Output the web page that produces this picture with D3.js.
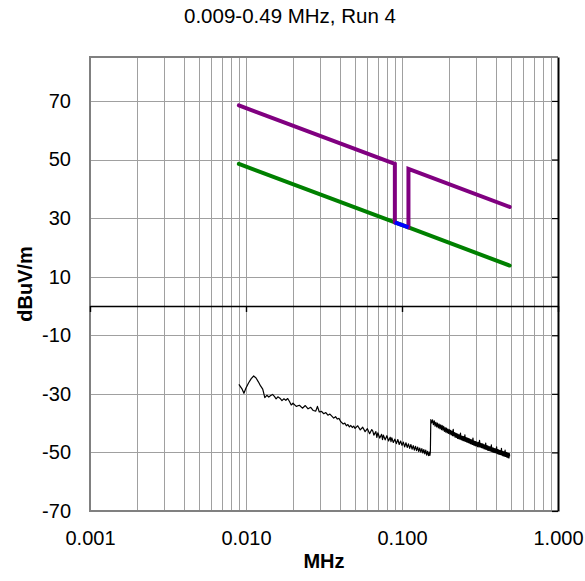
<!DOCTYPE html>
<html>
<head>
<meta charset="utf-8">
<script src="https://cdn.jsdelivr.net/npm/d3@7"></script>
<style>
  html, body { margin: 0; padding: 0; background: #fff; }
  svg { display: block; }
  text { font-family: "Liberation Sans", Arial, sans-serif; fill: #000; }
</style>
</head>
<body>
<svg id="chart" width="585" height="581"></svg>
<script>
// ---- text ----
const chartTitle = "0.009-0.49 MHz, Run 4";
const xLabel = "MHz";
const yLabel = "dBuV/m";

// ---- axis ticks ----
const xTicks = [0.001, 0.01, 0.1, 1];
const xTickLabels = ["0.001", "0.010", "0.100", "1.000"];
const yTicks = [-70, -50, -30, -10, 10, 30, 50, 70];
const yDomain = [-70, 85];
const xDomain = [0.001, 1];

// ---- limit lines: [MHz, dBuV/m] ----
const peakLimitLow  = [[0.009, 68.5], [0.09, 48.5], [0.09, 28.5]];
const peakLimitHigh = [[0.11, 26.8], [0.11, 46.8], [0.49, 33.8]];
const avgLimit      = [[0.009, 48.5], [0.09, 28.5], [0.11, 26.8], [0.49, 13.8]];
const qpLimit       = [[0.09, 28.5], [0.11, 26.8]];

// ---- measured trace: [kHz, dBuV/m] ----
const measLow = [
  [9.0,-26.8],[9.4,-28.2],[9.7,-29.8],[10.0,-28.0],[10.4,-26.2],[10.8,-24.8],[11.2,-23.9],[11.6,-24.6],
  [12.0,-25.9],[12.4,-27.3],[12.8,-28.4],[13.2,-31.3],[13.6,-30.5],[14.0,-31.1],[14.4,-30.6],[14.8,-30.2],
  [15.2,-30.9],[15.6,-31.7],[16.0,-31.0],[16.5,-31.5],[17.0,-32.3],[17.5,-31.7],[18.0,-32.2],[18.5,-31.6],
  [19.0,-32.6],[19.5,-33.8],[20,-33.2],[21,-34.3],[22,-33.9],[23,-34.9],[24,-34.0],[25,-35.1],
  [26,-34.6],[27,-35.7],[28,-35.9],[28.7,-34.3],[29.5,-36.2],[30.5,-36.0],[31.5,-36.8],[32.5,-36.4],
  [33.5,-37.3],[34.5,-36.9],[35.5,-37.6],[36.5,-38.3],[37.5,-37.8],[38.5,-38.6],[39.5,-38.4],[40.5,-39.5],
  [42,-40.3],[43,-40.0],[44,-40.9],[45,-40.5],[46,-41.3],[47,-40.8],[48,-41.5],[49,-41.0],
  [50,-41.8],[52,-40.9],[54,-42.3],[56,-41.4],[58,-42.9],[60,-41.9],[62,-43.6],[64,-42.2],
  [65,-42.7],[66,-44.1],[68,-42.9],[69,-44.9],[70,-43.3],[72,-45.1],[74,-43.8],[75,-45.6],
  [76,-44.1],[78,-45.7],[80,-44.3],[82,-46.1],[84,-44.8],[85,-46.3],[86,-45.0],[88,-46.6],
  [90,-45.5],[92,-47.0],[94,-45.6],[96,-47.3],[98,-46.1],[100,-47.6],[102,-46.5],[104,-48.1],
  [106,-46.7],[108,-48.3],[110,-47.1],[112,-48.6],[114,-47.3],[116,-48.9],[118,-47.7],[120,-49.2],
  [122,-47.9],[124,-49.4],[126,-48.2],[128,-49.7],[130,-48.5],[132,-49.9],[134,-48.7],[136,-50.2],
  [138,-49.0],[140,-50.5],[142,-49.2],[144,-50.9],[146,-49.6],[148,-51.1],[150,-49.9],[151,-51.0],
  [152,-49.9]
];
const measHigh = [
  [153,-38.8],[155,-39.9],[157,-38.9],[159,-40.5],[161,-39.2],[163,-41.0],[165,-39.7],[167,-41.3],
  [169,-40.0],[171,-41.6],[173,-40.3],[175,-41.9],[177,-40.6],[179,-42.2],[181,-40.8],[183,-42.4],
  [185,-41.1],[187,-42.8],[189,-41.5],[191,-43.1],[193,-41.7],[195,-43.3],[197,-42.0],[199,-43.5],
  [201,-42.2],[203,-43.8],[205,-42.5],[207,-44.0],[209,-42.7],[211,-44.3],[213,-42.1],[215,-44.4],
  [217,-43.2],[219,-44.8],[221,-43.4],[223,-44.9],[225,-43.6],[227,-45.2],[229,-43.8],[231,-45.3],
  [233,-44.0],[235,-45.5],[237,-43.4],[239,-45.6],[241,-44.4],[243,-45.8],[245,-44.5],[247,-46.0],
  [249,-44.6],[251,-46.1],[253,-44.0],[255,-46.2],[257,-44.9],[259,-46.4],[261,-45.0],[263,-46.5],
  [265,-45.2],[267,-46.7],[269,-45.3],[271,-46.8],[273,-45.5],[275,-47.0],[277,-45.6],[279,-47.1],
  [281,-45.8],[283,-47.3],[285,-45.1],[287,-47.4],[289,-46.1],[291,-47.5],[293,-46.2],[295,-47.7],
  [297,-46.3],[299,-47.8],[302,-46.5],[305,-48.0],[308,-46.6],[311,-48.1],[314,-45.9],[317,-48.2],
  [320,-46.9],[323,-48.4],[326,-47.0],[329,-48.5],[332,-47.2],[335,-48.7],[338,-47.4],[341,-48.9],
  [344,-46.8],[347,-49.0],[350,-47.7],[353,-49.2],[356,-47.8],[359,-49.3],[362,-48.0],[365,-49.4],
  [368,-48.1],[371,-49.6],[374,-47.4],[377,-49.7],[380,-48.4],[383,-49.9],[386,-48.5],[389,-50.0],
  [392,-48.7],[395,-50.1],[398,-48.8],[401,-50.2],[404,-48.1],[407,-50.3],[410,-49.0],[413,-50.5],
  [416,-49.1],[419,-50.6],[422,-49.3],[425,-50.7],[428,-49.4],[431,-50.8],[434,-48.6],[437,-50.9],
  [440,-49.6],[443,-51.1],[446,-49.7],[449,-51.2],[452,-49.8],[455,-51.3],[458,-49.2],[461,-51.4],
  [464,-50.0],[467,-51.5],[470,-50.1],[473,-51.6],[476,-50.2],[479,-51.8],[482,-50.3],[485,-51.9],
  [488,-50.4],[490,-51.3]
];

// ---- layout ----
const plot = { left: 90, right: 558, top: 57, bottom: 511 };
const svg = d3.select("#chart");
const fontFamily = '"Liberation Sans", Arial, sans-serif';

const x = d3.scaleLog().domain(xDomain).range([plot.left, plot.right]);
const y = d3.scaleLinear().domain(yDomain).range([plot.bottom, plot.top]);

// gridlines
const grid = svg.append("g").attr("stroke", "#a0a0a0").attr("stroke-width", 1);
grid.selectAll("line.v")
  .data(x.ticks().filter(d => d > xDomain[0] * 1.0001 && d < xDomain[1] * 0.9999))
  .join("line")
  .attr("x1", d => Math.round(x(d)) + 0.5).attr("x2", d => Math.round(x(d)) + 0.5)
  .attr("y1", plot.top).attr("y2", plot.bottom);
grid.selectAll("line.h")
  .data(yTicks.filter(d => d > yDomain[0]))
  .join("line")
  .attr("x1", plot.left).attr("x2", plot.right)
  .attr("y1", d => Math.round(y(d)) + 0.5).attr("y2", d => Math.round(y(d)) + 0.5);

// plot-area frame (left, top, bottom)
svg.append("path")
  .attr("d", `M${plot.right},${plot.top}H${plot.left}V${plot.bottom}H${plot.right}`)
  .attr("fill", "none").attr("stroke", "#808080").attr("stroke-width", 2);

// vertical axis line on the right edge with inward ticks
const yAxisRight = svg.append("g")
  .attr("transform", `translate(${plot.right},0)`)
  .call(d3.axisLeft(y).tickValues(yTicks).tickSize(6).tickSizeOuter(0).tickFormat(""));
yAxisRight.select(".domain").attr("stroke", "#000").attr("stroke-width", 2);
yAxisRight.selectAll(".tick line").attr("stroke", "#000").attr("stroke-width", 1.2);

// y tick labels on the left (plain hyphen for negatives)
const yAxisLabels = svg.append("g")
  .attr("transform", `translate(${plot.left},0)`)
  .call(d3.axisLeft(y).tickValues(yTicks).tickSize(0).tickPadding(19).tickFormat(d => String(d)));
yAxisLabels.select(".domain").remove();
yAxisLabels.selectAll("text").attr("font-size", 20).style("font-family", fontFamily);

// horizontal axis line crossing at 0
const xAxisZero = svg.append("g")
  .attr("transform", `translate(0,${y(0)})`)
  .call(d3.axisBottom(x).tickValues(xTicks).tickSize(6).tickSizeOuter(0).tickFormat(""));
xAxisZero.select(".domain").attr("stroke", "#000").attr("stroke-width", 1.4);
xAxisZero.selectAll(".tick line").attr("stroke", "#000").attr("stroke-width", 1.4);

// x tick labels below the plot
const xAxisLabels = svg.append("g")
  .attr("transform", `translate(0,${plot.bottom})`)
  .call(d3.axisBottom(x).tickValues(xTicks).tickSize(0).tickPadding(20)
    .tickFormat((d, i) => xTickLabels[i]));
xAxisLabels.select(".domain").remove();
xAxisLabels.selectAll("text").attr("font-size", 20).style("font-family", fontFamily);

// series
const line = d3.line().x(d => x(d[0])).y(d => y(d[1]));
const lineKHz = d3.line().x(d => x(d[0] / 1000)).y(d => y(d[1]));

svg.append("path").datum(avgLimit).attr("d", line)
  .attr("fill", "none").attr("stroke", "#008000").attr("stroke-width", 4)
  .attr("stroke-linecap", "round");
[peakLimitLow, peakLimitHigh].forEach(seg => {
  svg.append("path").datum(seg).attr("d", line)
    .attr("fill", "none").attr("stroke", "#800080").attr("stroke-width", 4)
    .attr("stroke-linecap", "round").attr("stroke-linejoin", "miter");
});
svg.append("path").datum(qpLimit).attr("d", line)
  .attr("fill", "none").attr("stroke", "#0000ff").attr("stroke-width", 4)
  .attr("stroke-linecap", "butt");

svg.append("path").datum(measLow.concat(measHigh)).attr("d", lineKHz)
  .attr("fill", "none").attr("stroke", "#000").attr("stroke-width", 1.2)
  .attr("stroke-linejoin", "round");

// titles
svg.append("text")
  .attr("x", 290).attr("y", 23)
  .attr("text-anchor", "middle").attr("font-size", 20.5)
  .text(chartTitle);
svg.append("text")
  .attr("x", (plot.left + plot.right) / 2).attr("y", 568)
  .attr("text-anchor", "middle").attr("font-size", 20).attr("font-weight", "bold")
  .text(xLabel);
svg.append("text")
  .attr("transform", `translate(32,284) rotate(-90)`)
  .attr("text-anchor", "middle").attr("font-size", 20).attr("font-weight", "bold")
  .text(yLabel);
</script>
</body>
</html>
